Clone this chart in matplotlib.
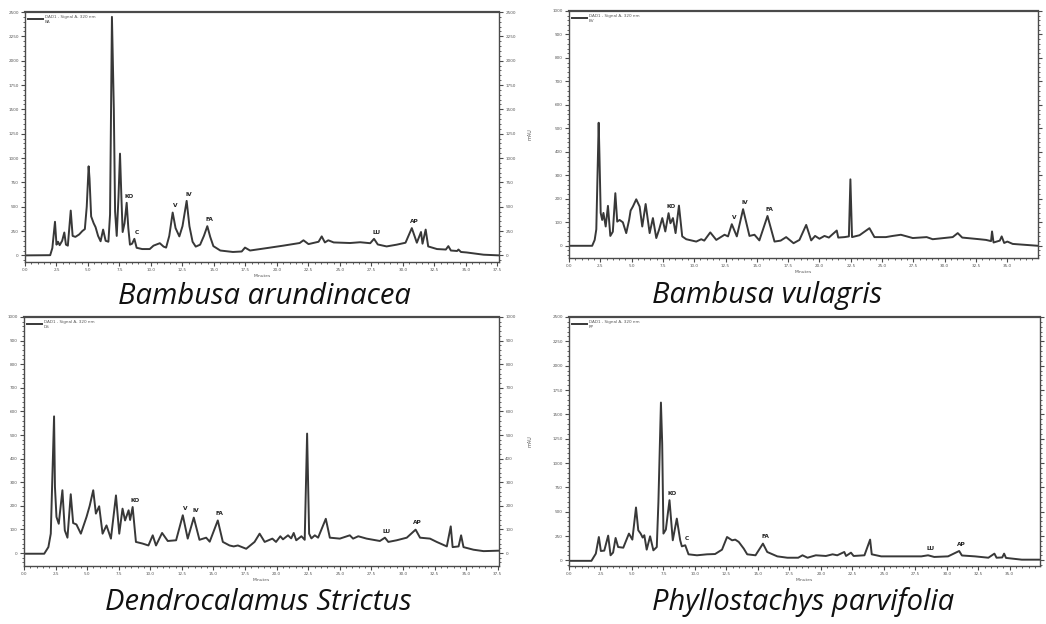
import numpy as np
import matplotlib.pyplot as plt
from matplotlib.ticker import MultipleLocator, FormatStrFormatter


# Bambusa arundinacea trace (retention time in min, absorbance in mAU)
ba_time = [0.0, 2.0, 2.17, 2.38, 2.5, 2.62, 2.75, 2.95, 3.12, 3.25, 3.4, 3.63, 3.78, 4.0, 4.3,
           4.55, 4.75, 4.9, 5.05, 5.12, 5.25, 5.45, 5.6, 5.8, 6.0, 6.2, 6.4, 6.62, 6.75, 6.9,
           7.05, 7.15, 7.28, 7.42, 7.54, 7.65, 7.75, 7.9, 8.07, 8.2, 8.33, 8.5, 8.68, 8.86, 9.3,
           9.9, 10.2, 10.7, 11.0, 11.2, 11.45, 11.72, 11.95, 12.25, 12.5, 12.83, 13.05, 13.3,
           13.55, 13.9, 14.2, 14.47, 14.7, 14.95, 15.5, 16.5, 17.2, 17.46, 17.86, 19.2, 20.5,
           21.8, 22.1, 22.5, 23.3, 23.55, 23.8, 24.07, 24.5, 25.8, 26.6, 27.4, 27.7, 28.0, 28.7,
           29.5, 30.2, 30.7, 31.1, 31.43, 31.55, 31.8, 32.0, 32.7, 33.4, 33.6, 33.8, 34.3, 34.4,
           34.6, 35.05, 36.4, 37.62]
ba_mau = [0, 2, 75, 345, 110, 140, 105, 150, 235, 110, 100, 460, 200, 190, 215,
          250, 270, 500, 915, 790, 400, 330, 290, 200, 145, 265, 150, 140, 420, 2450,
          1500, 450, 200, 600, 1045, 600, 240, 330, 540, 280, 110, 120, 170, 78, 65,
          65, 100, 125, 90, 80, 200, 440, 280, 195, 300, 560, 300, 140,
          90, 110, 200, 300, 190, 95, 50, 35, 40, 80, 50, 75, 100,
          127, 155, 116, 140, 195, 133, 155, 133, 127, 135, 125, 170, 112, 92,
          110, 130, 280, 130, 240, 120, 265, 92, 65, 60, 95, 50, 45, 60,
          35, 30, 7, 0]
ba_peaks = ["KO", "C", "V", "IV", "FA", "LU", "AP"]
ba_peak_times = [8.07, 8.68, 11.72, 12.83, 14.47, 27.7, 30.7]

# Bambusa vulagris trace
bv_time = [0.0, 1.85, 2.05, 2.18, 2.37, 2.43, 2.53, 2.65, 2.75, 2.93, 3.11, 3.3, 3.5, 3.7, 3.85,
           4.04, 4.3, 4.57, 4.8, 4.92, 5.1, 5.37, 5.64, 5.85, 6.12, 6.44, 6.7, 6.97, 7.2, 7.45,
           7.69, 7.95, 8.1, 8.3, 8.51, 8.78, 9.04, 9.36, 10.16, 10.56, 10.8, 11.28, 11.76, 12.42,
           12.7, 13.0, 13.4, 13.9, 14.41, 14.81, 15.2, 15.85, 16.41, 16.9, 17.34, 17.93, 18.4,
           18.94, 19.34, 19.65, 20.0, 20.4, 20.75, 21.0, 21.38, 21.5, 22.0, 22.35, 22.47, 22.6,
           23.2, 23.99, 24.39, 25.3, 25.85, 26.5, 27.45, 28.56, 29.04, 30.64, 31.04, 31.4, 32.77,
           33.3, 33.7, 33.78, 33.9, 34.4, 34.55, 34.75, 35.0, 35.43, 37.45]
bv_mau = [0, 0, 25, 70, 524, 390, 140, 110, 140, 82, 170, 42, 60, 224, 103,
          110, 100, 54, 110, 150, 167, 198, 167, 82, 178, 54, 118, 33, 70, 118,
          61, 139, 96, 118, 54, 171, 40, 28, 18, 28, 22, 57, 25, 47,
          40, 92, 40, 156, 42, 47, 23, 127, 18, 22, 37, 11, 25,
          89, 23, 42, 30, 42, 35, 47, 65, 35, 37, 40, 283, 37,
          45, 75, 37, 37, 42, 47, 33, 37, 28, 37, 54, 35, 28,
          25, 20, 61, 14, 22, 40, 12, 18, 8, 0]
bv_peaks = ["KO", "V", "IV", "FA"]
bv_peak_times = [7.95, 13.0, 13.9, 15.85]

# Dendrocalamus strictus trace
ds_time = [0.0, 1.6, 1.93, 2.12, 2.38, 2.45, 2.57, 2.75, 3.04, 3.23, 3.44, 3.7, 3.89, 4.15, 4.5,
           4.95, 5.2, 5.48, 5.69, 5.95, 6.22, 6.53, 6.88, 7.28, 7.54, 7.8, 8.0, 8.28, 8.4, 8.6,
           8.86, 9.39, 9.85, 10.19, 10.45, 10.93, 11.38, 12.04, 12.57, 12.96, 13.44, 13.89, 14.42,
           14.7, 15.34, 15.74, 16.27, 16.6, 16.93, 17.59, 18.25, 18.65, 19.05, 19.66, 19.95, 20.29,
           20.5, 20.9, 21.15, 21.35, 21.55, 21.96, 22.22, 22.41, 22.57, 22.75, 23.02, 23.28, 23.89,
           24.21, 25.0, 25.79, 26.05, 26.46, 27.12, 28.17, 28.57, 28.84, 29.5, 30.3, 31.0, 31.35,
           32.14, 32.67, 33.47, 33.78, 33.93, 34.4, 34.6, 34.79, 35.58, 36.38, 37.6]
ds_mau = [-3, -3, 25, 82, 579, 280, 153, 124, 266, 96, 65, 249, 127, 121, 82,
          153, 200, 266, 167, 198, 82, 117, 61, 244, 82, 188, 138, 181, 140, 195,
          47, 40, 32, 75, 32, 85, 51, 54, 160, 61, 150, 56, 65,
          48, 138, 47, 32, 28, 32, 18, 47, 82, 47, 61, 47, 71,
          58, 75, 62, 85, 54, 71, 56, 506, 82, 62, 75, 65, 145,
          65, 61, 75, 61, 71, 61, 51, 65, 47, 54, 65, 99, 65,
          61, 47, 28, 113, 25, 28, 75, 25, 14, 8, 10]
ds_peaks = ["KO", "V", "IV", "FA", "LU", "AP"]
ds_peak_times = [8.6, 12.57, 13.44, 15.34, 28.57, 31.0]

# Phyllostachys parvifolia trace
pp_time = [0.0, 1.78, 2.13, 2.37, 2.53, 2.8, 3.11, 3.3, 3.5, 3.7, 3.9, 4.31, 4.76, 5.03, 5.32,
           5.5, 5.69, 5.85, 5.98, 6.17, 6.44, 6.7, 6.97, 7.1, 7.3, 7.4, 7.5, 7.69, 7.98, 8.24,
           8.56, 8.83, 8.96, 9.23, 9.49, 10.16, 10.96, 11.6, 12.15, 12.55, 12.95, 13.2, 13.48,
           13.88, 14.15, 14.81, 15.4, 15.74, 16.54, 17.34, 18.2, 18.54, 18.94, 19.6, 20.4, 20.93,
           21.3, 21.86, 22.0, 22.39, 22.6, 23.46, 23.91, 24.04, 24.79, 26.65, 27.98, 28.51, 29.0,
           30.1, 30.98, 31.2, 32.23, 33.3, 33.78, 33.95, 34.4, 34.55, 34.7, 35.96, 37.4]
pp_mau = [-5, -5, 69, 240, 96, 100, 254, 52, 80, 230, 137, 130, 275, 213, 543,
          309, 275, 234, 258, 110, 247, 103, 137, 600, 1621, 1200, 275, 316, 618, 206,
          429, 206, 144, 155, 62, 52, 62, 65, 110, 240, 206, 213, 189,
          120, 62, 52, 172, 86, 41, 27, 27, 52, 27, 52, 45, 62,
          52, 86, 45, 79, 45, 52, 213, 62, 41, 41, 41, 52, 35,
          41, 96, 50, 41, 27, 69, 27, 30, 69, 25, 7, 7]
pp_peaks = ["KO", "C", "FA", "LU", "AP"]
pp_peak_times = [7.98, 9.23, 15.4, 28.51, 30.98]

species = ["Bambusa arundinacea", "Bambusa vulagris",
           "Dendrocalamus Strictus", "Phyllostachys parvifolia"]
sample_codes = ["BA", "BV", "DS", "PP"]

# panel layout: [left, bottom, width, height] in figure fractions, plus axis ranges
W, H = 1046, 624
panels = [
    dict(rect=[25 / W, 1 - 262 / H, 474 / W, 250 / H], xmax=37.62, ylim=(-68, 2500),
         ymajor=250, yminor=50, right_labels=True, ylabel=False, cap=(264, 296)),
    dict(rect=[569 / W, 1 - 258 / H, 469 / W, 247 / H], xmax=37.45, ylim=(-52, 1000),
         ymajor=100, yminor=20, right_labels=False, ylabel=True, cap=(767, 296)),
    dict(rect=[24 / W, 1 - 566 / H, 475 / W, 249 / H], xmax=37.6, ylim=(-55, 1000),
         ymajor=100, yminor=20, right_labels=True, ylabel=False, cap=(258, 602)),
    dict(rect=[569 / W, 1 - 566 / H, 471 / W, 249 / H], xmax=37.4, ylim=(-58, 2500),
         ymajor=250, yminor=50, right_labels=False, ylabel=True, cap=(803, 602)),
]
traces = [(ba_time, ba_mau, ba_peaks, ba_peak_times),
          (bv_time, bv_mau, bv_peaks, bv_peak_times),
          (ds_time, ds_mau, ds_peaks, ds_peak_times),
          (pp_time, pp_mau, pp_peaks, pp_peak_times)]

line_color = "#383838"
frame_color = "#4a4a4a"

fig = plt.figure(figsize=(W / 100, H / 100), dpi=100)

for cfg, (t, y, names, times), name, code in zip(panels, traces, species, sample_codes):
    ax = fig.add_axes(cfg["rect"])
    t = np.array(t)
    y = np.array(y)
    line, = ax.plot(t, y, color=line_color, linewidth=1.4, solid_joinstyle="round",
                    label="DAD1 - Signal A, 320 nm\n" + code)

    ax.set_xlim(0, cfg["xmax"])
    ax.set_ylim(*cfg["ylim"])

    # ticks: outward, major + many minor, tiny labels like the instrument export
    ax.xaxis.set_major_locator(MultipleLocator(2.5))
    ax.xaxis.set_minor_locator(MultipleLocator(0.5))
    ax.xaxis.set_major_formatter(FormatStrFormatter("%.1f"))
    ax.yaxis.set_major_locator(MultipleLocator(cfg["ymajor"]))
    ax.yaxis.set_minor_locator(MultipleLocator(cfg["yminor"]))
    ax.tick_params(which="both", direction="out", colors=frame_color, labelcolor="#555555",
                   labelsize=3, right=True, labelright=cfg["right_labels"], pad=1.5)
    ax.tick_params(which="major", length=3, width=0.8)
    ax.tick_params(which="minor", length=1.6, width=0.6)
    for side, spine in ax.spines.items():
        spine.set_color(frame_color)
        spine.set_linewidth(1.6 if side == "top" else 1.0)

    ax.set_xlabel("Minutes", fontsize=3.2, color="#555555", labelpad=1.5)
    if cfg["ylabel"]:
        ax.set_ylabel("mAU", fontsize=3.5, color="#555555", labelpad=14)

    ax.legend(loc="upper left", fontsize=3, frameon=False, handlelength=3.5,
              borderaxespad=0.3, handletextpad=0.6, labelcolor="#555555")

    # compound labels sit just above the apex of their peak
    for label, pt in zip(names, times):
        near = np.abs(t - pt) <= 0.2
        idx = np.where(near)[0][np.argmax(y[near])]
        ax.annotate(label, (t[idx], y[idx]), xytext=(1.5, 3), textcoords="offset points",
                    ha="center", va="bottom", fontsize=4.2, fontweight="bold", color="#222222")

    cx, cy = cfg["cap"]
    fig.text(cx / W, 1 - cy / H, name, fontsize=21, style="italic", family="Open Sans",
             color="#111111", ha="center", va="center")

fig.savefig("out.png", dpi=100, facecolor="white")
